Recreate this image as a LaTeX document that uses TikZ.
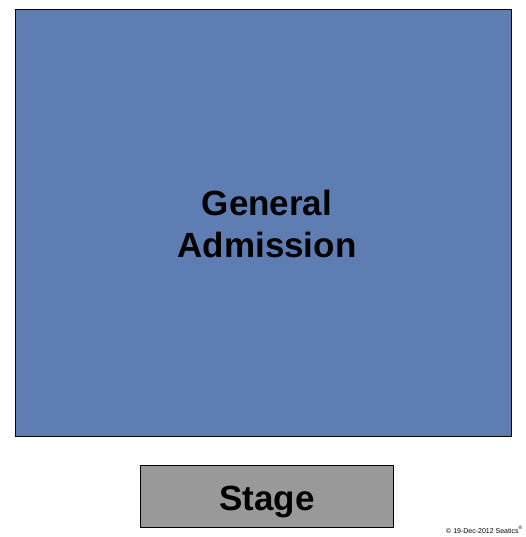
\documentclass[tikz,border=0pt]{standalone}
\usepackage{fontspec}
\setmainfont{Liberation Sans}
\definecolor{gablue}{RGB}{94,125,179}
\definecolor{stagegray}{RGB}{153,153,153}
\begin{document}
\begin{tikzpicture}[x=1pt,y=-1pt,
  section/.style={draw=black,line width=1pt,inner sep=0pt,outer sep=0pt},
  bigtext/.style={font=\fontsize{35}{42}\selectfont\bfseries,align=center,text=black}]
\useasboundingbox (0,0) rectangle (525,537);
\fill[white] (0,0) rectangle (525,537);
\node[section,fill=gablue,minimum width=496pt,minimum height=426pt,anchor=north west] (ga) at (15,10) {};
\node[bigtext] (galabel) at (267,224) {General\\Admission};
\node[section,fill=stagegray,minimum width=253pt,minimum height=62pt,anchor=north west] (stage) at (140,465) {};
\node[bigtext] (stagelabel) at (267,502) {Stage};
\node[anchor=base east,font=\fontsize{7}{8}\selectfont,inner sep=0pt] (copy) at (523,533) {© 19-Dec-2012 Seatics\textsuperscript{®}};
\end{tikzpicture}
\end{document}
